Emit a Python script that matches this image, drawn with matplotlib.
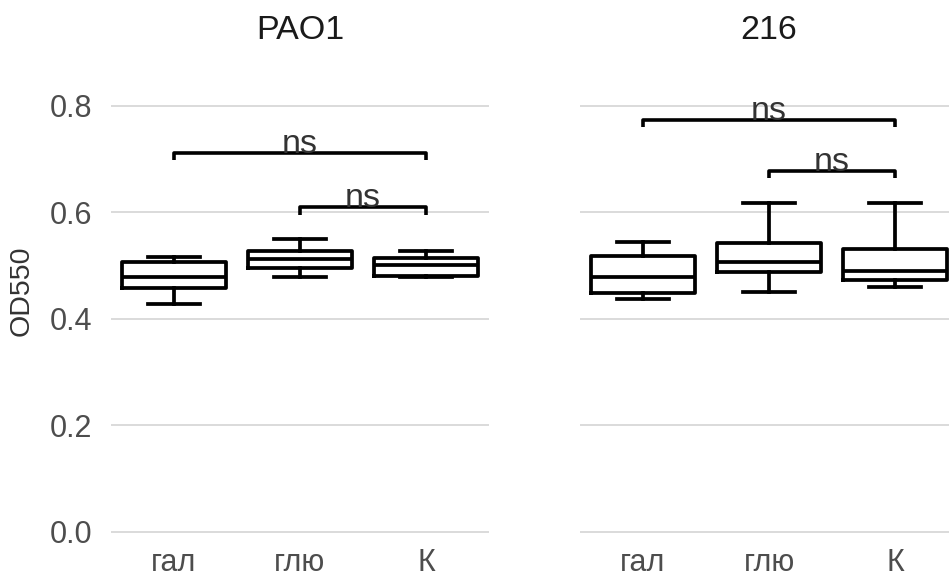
import matplotlib.pyplot as plt

plt.rcParams['font.family'] = ['Liberation Sans', 'DejaVu Sans']

groups = ['гал', 'глю', 'К']
strains = ['PAO1', '216']

# box statistics per strain: lower whisker, Q1, median, Q3, upper whisker
whislo = {'PAO1': [0.428, 0.479, 0.479], '216': [0.438, 0.451, 0.460]}
q1 = {'PAO1': [0.458, 0.496, 0.481], '216': [0.449, 0.488, 0.473]}
med = {'PAO1': [0.479, 0.513, 0.501], '216': [0.479, 0.507, 0.490]}
q3 = {'PAO1': [0.507, 0.528, 0.515], '216': [0.518, 0.543, 0.532]}
whishi = {'PAO1': [0.516, 0.550, 0.528], '216': [0.545, 0.618, 0.618]}

# pairwise comparisons: (group a, group b, bracket height, label)
comparisons = {
    'PAO1': [(1, 3, 0.712, 'ns'), (2, 3, 0.610, 'ns')],
    '216': [(1, 3, 0.774, 'ns'), (2, 3, 0.678, 'ns')],
}

yticks = [0.0, 0.2, 0.4, 0.6, 0.8]

fig = plt.figure(figsize=(9.49, 5.73), dpi=100)
ax1 = fig.add_axes([111 / 949, 0.0623, 378 / 949, 0.7993])
ax2 = fig.add_axes([580 / 949, 0.0623, 378 / 949, 0.7993])

line = dict(color='black', linewidth=2.7)
tip = 0.014

for ax, s in zip([ax1, ax2], strains):
    stats = []
    for i, g in enumerate(groups):
        stats.append(dict(label=g, whislo=whislo[s][i], q1=q1[s][i], med=med[s][i],
                          q3=q3[s][i], whishi=whishi[s][i], fliers=[]))
    ax.bxp(stats, positions=[1, 2, 3], widths=0.82, capwidths=0.42,
           showfliers=False, boxprops=line, whiskerprops=line,
           capprops=line, medianprops=line)

    for a, b, h, lab in comparisons[s]:
        ax.plot([a, a, b, b], [h - tip, h, h, h - tip], color='black',
                linewidth=2.6, solid_capstyle='butt')
        ax.text((a + b) / 2, h, lab, ha='center', va='baseline',
                fontsize=24.5, color='#333333')

    ax.set_xlim(0.5, 3.5)
    ax.set_ylim(-0.01, 0.85)
    ax.set_yticks(yticks)
    ax.set_xticks([1, 2, 3])
    ax.set_xticklabels(groups)
    ax.grid(axis='y', color='#d4d4d4', linewidth=1.2)
    ax.grid(axis='x', visible=False)
    ax.set_axisbelow(True)
    for sp in ax.spines.values():
        sp.set_visible(False)
    ax.tick_params(axis='x', length=0, pad=8, labelsize=22, labelcolor='#4d4d4d')
    ax.tick_params(axis='y', length=0, pad=13.7, labelsize=22, labelcolor='#4d4d4d')
    ax.text(0.5, 1.1055, s, transform=ax.transAxes, ha='center', va='center',
            fontsize=24.5, color='#1a1a1a')

ax2.tick_params(axis='y', labelleft=False)
ax1.set_ylabel('OD550', fontsize=20.5, color='#333333', va='center')
ax1.yaxis.set_label_coords(-0.2354, 0.538)

fig.savefig('out.png', dpi=100)
